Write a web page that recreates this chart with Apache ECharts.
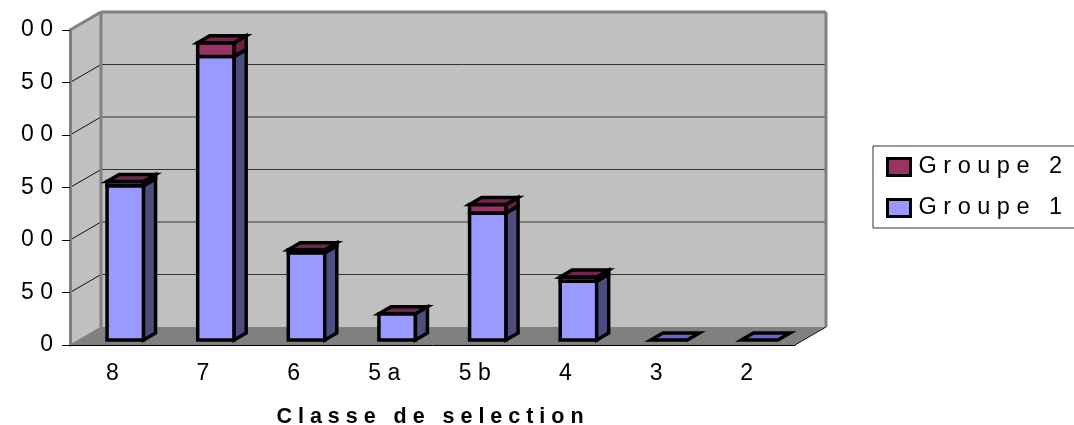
<!DOCTYPE html>
<html>
<head>
<meta charset="utf-8">
<style>
  html, body { margin: 0; padding: 0; background: #fff; overflow: hidden; }
  #chart { width: 1074px; height: 425px; }
</style>
<script src="https://cdn.jsdelivr.net/npm/echarts@6/dist/echarts.min.js"></script>
</head>
<body>
<div id="chart"></div>
<script>
const categories = ['8', '7', '6', '5a', '5b', '4', '3', '2']
const groupe1 = [147, 270, 83, 25, 121, 56, 0, 0]
// pas de valeur pour 3 et 2 : le dessus reste bleu
const groupe2 = [4, 13, 3, 0, 8, 4, null, null]
const yTicks = [0, 50, 100, 150, 200, 250, 300]
const axisTitle = 'Classe de selection'

const FONT = '"Liberation Sans", Arial, sans-serif'
// profondeur de la boite 3D et des barres (px)
const WALL_DX = 31
const WALL_DY = -18
const BAR_DX = 10
const BAR_DY = -5
const BAR_W = 36.5
const BAR_STROKE = 3.5
const SIDE_DX = 12
const SIDE_DY = -7

const spaced = s => String(s).split('').join(' ')

function poly(points, fill, stroke, lineWidth) {
  return {
    type: 'polygon',
    shape: { points: points },
    style: { fill: fill, stroke: stroke || 'none', lineWidth: lineWidth || 0, lineJoin: 'miter' }
  }
}

function line(a, b, color, width) {
  return {
    type: 'line',
    shape: { x1: a[0], y1: a[1], x2: b[0], y2: b[1] },
    style: { stroke: color, lineWidth: width }
  }
}

// murs, sol et grille
function renderWalls(params, api) {
  const c = params.coordSys
  const x0 = c.x
  const x1 = c.x + c.width
  const yBase = api.coord([0, 0])[1]
  const yTop = api.coord([0, 300])[1]
  const back = (x, y) => [x + WALL_DX, y + WALL_DY]
  const children = [
    poly([[x0, yTop], back(x0, yTop), back(x0, yBase), [x0, yBase]], '#c0c0c0'),
    poly([back(x0, yTop), back(x1, yTop), back(x1, yBase), back(x0, yBase)], '#c0c0c0'),
    poly([[x0, yBase], back(x0, yBase), back(x1, yBase), [x1, yBase]], '#808080')
  ]
  yTicks.slice(1, -1).forEach(t => {
    const y = api.coord([0, t])[1]
    children.push(line(back(x0, y), back(x1, y), '#333', 1))
    children.push(line([x0, y], back(x0, y), '#111', 1))
  })
  children.push(line([x0, yTop], back(x0, yTop), '#808080', 3))
  children.push(line(back(x0, yTop), back(x1, yTop), '#808080', 3))
  children.push(line(back(x0, yTop), back(x0, yBase), '#808080', 3))
  children.push(line(back(x1, yTop), back(x1, yBase), '#808080', 3))
  children.push(line(back(x1, yBase), [x1, yBase], '#111', 1))
  children.push(line([x0, yBase], back(x0, yBase), '#808080', 1))
  return { type: 'group', children: children }
}

function makeBar(colors, capped) {
  return function (params, api) {
    const i = api.value(0)
    const cx = api.coord([i, 0])[0] + BAR_DX
    const yLow = api.coord([0, api.value(1)])[1] + BAR_DY
    const yHigh = api.coord([0, api.value(2)])[1] + BAR_DY
    const l = cx - BAR_W / 2
    const r = cx + BAR_W / 2
    const children = []
    if (yLow !== yHigh) {
      children.push(poly([[l, yHigh], [r, yHigh], [r, yLow], [l, yLow]], colors.front, '#000', BAR_STROKE))
      children.push(poly([[r, yHigh], [r + SIDE_DX, yHigh + SIDE_DY], [r + SIDE_DX, yLow + SIDE_DY], [r, yLow]], colors.side, '#000', BAR_STROKE))
    }
    // le dessus est cache quand une autre barre est posee dessus
    if (!capped || capped[i] === null) {
      children.push(poly([[l, yHigh], [l + SIDE_DX, yHigh + SIDE_DY], [r + SIDE_DX, yHigh + SIDE_DY], [r, yHigh]], colors.top, '#000', BAR_STROKE))
    }
    return { type: 'group', children: children }
  }
}

function barData(low, values) {
  const out = []
  values.forEach((v, i) => {
    if (v !== null) out.push([i, low ? low[i] : 0, (low ? low[i] : 0) + v])
  })
  return out
}

const chart = echarts.init(document.getElementById('chart'), null, { renderer: 'canvas' })
chart.setOption({
  animation: false,
  backgroundColor: '#fff',
  textStyle: { fontFamily: FONT },
  grid: { left: 70, top: 30, width: 725, height: 315, outerBoundsMode: 'none' },
  xAxis: {
    type: 'category',
    data: categories,
    z: 5,
    name: spaced(axisTitle),
    nameLocation: 'middle',
    nameGap: 61,
    nameTextStyle: { fontFamily: FONT, fontSize: 21.5, fontWeight: 'bold', color: '#000', padding: [0, 5, 0, 0] },
    axisLine: { lineStyle: { color: '#000', width: 1 } },
    axisTick: { length: 6, lineStyle: { color: '#000', width: 1 } },
    axisLabel: {
      fontFamily: FONT, fontSize: 23, color: '#000', margin: 17, padding: [0, 6, 0, 0],
      formatter: v => spaced(v)
    },
    splitLine: { show: false }
  },
  yAxis: {
    type: 'value',
    min: 0,
    max: 300,
    interval: 50,
    z: 5,
    axisLine: { show: true, lineStyle: { color: '#808080', width: 3 } },
    axisTick: { show: true, length: 8, lineStyle: { color: '#000', width: 1 } },
    axisLabel: {
      fontFamily: FONT, fontSize: 23, color: '#000', margin: 17,
      formatter: v => spaced(v)
    },
    splitLine: { show: false }
  },
  legend: {
    data: ['Groupe 2', 'Groupe 1'],
    orient: 'vertical',
    left: 873,
    top: 146,
    padding: [9, 30, 8, 13],
    itemWidth: 23,
    itemHeight: 17,
    itemGap: 17,
    icon: 'rect',
    selectedMode: false,
    borderColor: '#333',
    borderWidth: 1,
    itemStyle: { borderColor: '#000', borderWidth: 3 },
    formatter: name => spaced(name),
    textStyle: { fontFamily: FONT, fontSize: 23.5, color: '#000', padding: [0, 0, 0, 3] }
  },
  // le premier chiffre des graduations est coupe a gauche dans l'original
  graphic: [{
    type: 'rect',
    left: 0,
    top: 0,
    z: 100,
    shape: { width: 14, height: 345 },
    style: { fill: '#fff' }
  }],
  series: [
    {
      type: 'custom',
      name: 'walls',
      z: 1,
      silent: true,
      clip: false,
      data: [[0, 0]],
      renderItem: renderWalls
    },
    {
      type: 'custom',
      name: 'Groupe 1',
      z: 3,
      clip: false,
      itemStyle: { color: '#9999ff' },
      encode: { x: 0, y: [1, 2] },
      data: barData(null, groupe1),
      renderItem: makeBar({ front: '#9999ff', side: '#4d4d80', top: '#6666cc' }, groupe2)
    },
    {
      type: 'custom',
      name: 'Groupe 2',
      z: 4,
      clip: false,
      itemStyle: { color: '#993366' },
      encode: { x: 0, y: [1, 2] },
      data: barData(groupe1, groupe2),
      renderItem: makeBar({ front: '#993366', side: '#66223f', top: '#73264d' })
    }
  ]
})
</script>
</body>
</html>
